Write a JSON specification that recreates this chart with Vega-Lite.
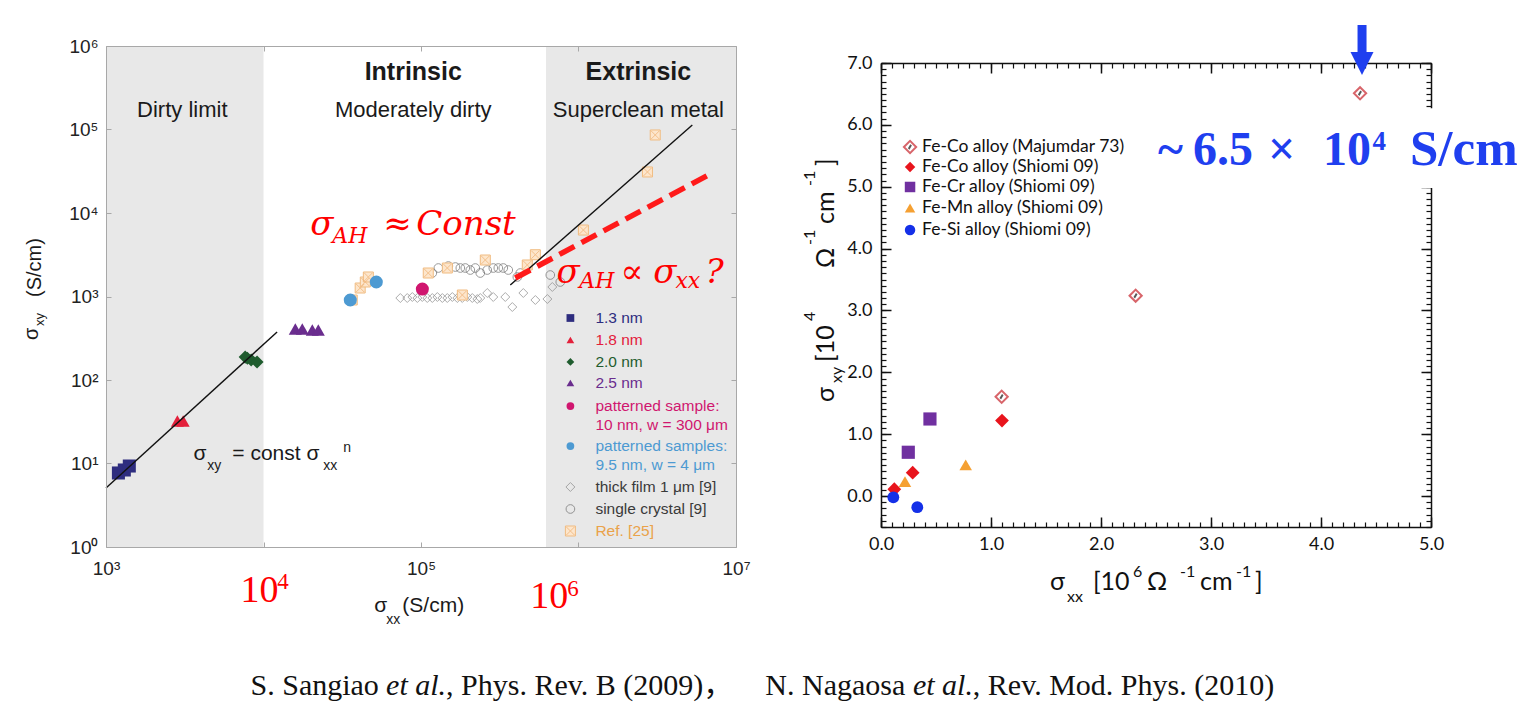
{
"$schema": "https://vega.github.io/schema/vega-lite/v6.json",
"background": "white",
"padding": {"left": 22, "top": 20, "right": 2, "bottom": 2},
"config": {"view": {"stroke": null}, "axis": {"grid": false}},
"datasets": {
"lband": [{"x1":1000,"x2":10000},{"x1":622000,"x2":10000000}],
"lcar": [{"x":1000,"y":1}],
"rcar": [{"x":0,"y":0}],
"lfit": [{"g":"a","x":1000,"y":5.09},{"g":"a","x":12200,"y":376},{"g":"b","x":369000,"y":1374},{"g":"b","x":5280000,"y":113000}],
"lred": [{"x":397000,"y":1667},{"x":6670000,"y":28500}],
"lthick": [{"x":73900,"y":959},{"x":81800,"y":959},{"x":88100,"y":986},{"x":94800,"y":959},{"x":101900,"y":986},{"x":109600,"y":959},{"x":118000,"y":959},{"x":127000,"y":986},{"x":136600,"y":959},{"x":146900,"y":959},{"x":158100,"y":986},{"x":170000,"y":959},{"x":182900,"y":959},{"x":196800,"y":986},{"x":211700,"y":959},{"x":227700,"y":933},{"x":237900,"y":959},{"x":263400,"y":1101},{"x":287700,"y":986},{"x":343000,"y":986},{"x":380000,"y":748},{"x":446400,"y":1101},{"x":532300,"y":908},{"x":634500,"y":933},{"x":682000,"y":1300},{"x":888300,"y":5.231}],
"lcryst": [{"x":118000,"y":1911},{"x":128900,"y":2194},{"x":149200,"y":2317},{"x":165300,"y":2254},{"x":177700,"y":2194},{"x":191100,"y":2194},{"x":205600,"y":2075},{"x":221200,"y":2194},{"x":237900,"y":1911},{"x":263400,"y":2075},{"x":287800,"y":2194},{"x":309600,"y":2194},{"x":333000,"y":2194},{"x":358200,"y":2075},{"x":409000,"y":1713},{"x":427000,"y":1911},{"x":662000,"y":1808},{"x":766000,"y":1492},{"x":888300,"y":2.852}],
"lref": [{"x":36600,"y":908},{"x":41100,"y":1264},{"x":44300,"y":1492},{"x":46300,"y":1713},{"x":111200,"y":1911},{"x":147000,"y":2194},{"x":183000,"y":1042},{"x":256000,"y":2735},{"x":473000,"y":2385},{"x":532000,"y":3164},{"x":1074000,"y":6252},{"x":2740000,"y":31000},{"x":3070000,"y":86000},{"x":888300,"y":1.554}],
"lfill": [{"s":"1.3 nm","x":1199,"y":7.7},{"s":"1.3 nm","x":1307,"y":8.36},{"s":"1.3 nm","x":1406,"y":9.33},{"s":"1.8 nm","x":2840,"y":32.3},{"s":"1.8 nm","x":3090,"y":32.3},{"s":"2.0 nm","x":7650,"y":188},{"s":"2.0 nm","x":7900,"y":182},{"s":"2.0 nm","x":8350,"y":174},{"s":"2.0 nm","x":9100,"y":164},{"s":"2.5 nm","x":15920,"y":408},{"s":"2.5 nm","x":17630,"y":408},{"s":"2.5 nm","x":20410,"y":397},{"s":"2.5 nm","x":22280,"y":397},{"s":"patterned sample","x":102000,"y":1229},{"s":"patterned samples","x":35570,"y":908},{"s":"patterned samples","x":52030,"y":1492}],
"llegf": [{"s":"1.3 nm","x":888300,"y":552.7},{"s":"1.8 nm","x":888300,"y":301.3},{"s":"2.0 nm","x":888300,"y":164.3},{"s":"2.5 nm","x":888300,"y":92.06},{"s":"patterned sample","x":888300,"y":48.81},{"s":"patterned samples","x":888300,"y":16.2}],
"llegt": [{"s":"1.3 nm","t":"1.3 nm","x":1280000,"y":552.7},{"s":"1.8 nm","t":"1.8 nm","x":1280000,"y":301.3},{"s":"2.0 nm","t":"2.0 nm","x":1280000,"y":164.3},{"s":"2.5 nm","t":"2.5 nm","x":1280000,"y":92.06},{"s":"patterned sample","t":"patterned sample:","x":1280000,"y":48.81},{"s":"patterned sample","t":"10 nm, w = 300 μm","x":1280000,"y":28.92},{"s":"patterned samples","t":"patterned samples:","x":1280000,"y":16.2},{"s":"patterned samples","t":"9.5 nm, w = 4 μm","x":1280000,"y":9.6},{"s":"Ref","t":"Ref. [25]","x":1280000,"y":1.554}],
"llegg": [{"t":"thick film 1 μm [9]","x":1280000,"y":5.231},{"t":"single crystal [9]","x":1280000,"y":2.852}],
"rfill": [{"s":"Fe-Co","x":1.1,"y":1.22},{"s":"Fe-Co","x":0.288,"y":0.378},{"s":"Fe-Co","x":0.121,"y":0.11},{"s":"Fe-Cr","x":0.445,"y":1.246},{"s":"Fe-Cr","x":0.248,"y":0.708},{"s":"Fe-Mn","x":0.77,"y":0.503},{"s":"Fe-Mn","x":0.218,"y":0.233},{"s":"Fe-Si","x":0.112,"y":-0.02},{"s":"Fe-Si","x":0.33,"y":-0.18}],
"rmaj": [{"x":1.097,"y":1.606},{"x":2.315,"y":3.239},{"x":4.355,"y":6.51},{"x":0.264,"y":5.642}],
"rlegf": [{"s":"Fe-Co","x":0.264,"y":5.319},{"s":"Fe-Cr","x":0.264,"y":4.996},{"s":"Fe-Mn","x":0.264,"y":4.656},{"s":"Fe-Si","x":0.264,"y":4.301}],
"rlegt": [{"t":"Fe-Co alloy (Majumdar 73)","x":0.373,"y":5.642},{"t":"Fe-Co alloy (Shiomi 09)","x":0.373,"y":5.319},{"t":"Fe-Cr alloy (Shiomi 09)","x":0.373,"y":4.996},{"t":"Fe-Mn alloy (Shiomi 09)","x":0.373,"y":4.656},{"t":"Fe-Si alloy (Shiomi 09)","x":0.373,"y":4.301}]
},
"resolve": {"scale": {"color": "independent", "shape": "independent", "size": "independent"}},
"spacing": 145,
"bounds": "flush",
"hconcat": [
{
"width": 630, "height": 501,
"resolve": {"axis": {"x": "independent", "y": "independent"}},
"layer": [
{"data": {"name": "lband"}, "mark": {"type": "rect", "color": "#e8e8e8"},
 "encoding": {
  "x": {"field": "x1", "type": "quantitative", "scale": {"type": "log", "domain": [1000, 10000000], "nice": false},
        "axis": {"orient": "bottom", "values": [1000,10000,100000,1000000,10000000], "labelExpr": "['10³','','10⁵','','10⁷'][round(log(datum.value)/LN10)-3]", "ticks": false, "domain": true, "domainColor": "#a8a8a8", "labelFont": "Liberation Sans", "labelFontSize": 19, "labelColor": "#222222", "labelPadding": 12, "labelOverlap": false, "labelFlush": false, "labelBound": false, "grid": false, "title": null, "zindex": 1}},
  "x2": {"field": "x2"},
  "y": {"datum": 1, "type": "quantitative", "scale": {"type": "log", "domain": [1, 1000000], "nice": false},
        "axis": {"orient": "left", "values": [1,10,100,1000,10000,100000,1000000], "labelExpr": "['10⁰','10¹','10²','10³','10⁴','10⁵','10⁶'][round(log(datum.value)/LN10)]", "ticks": false, "domain": true, "domainColor": "#a8a8a8", "labelFont": "Liberation Sans", "labelFontSize": 19, "labelColor": "#222222", "labelPadding": 8, "labelOverlap": false, "labelFlush": false, "labelBound": false, "grid": false, "title": null, "zindex": 1}},
  "y2": {"datum": 1000000}
 }},
{"data": {"name": "lcar"}, "mark": {"type": "point", "opacity": 0},
 "encoding": {
  "x": {"field": "x", "type": "quantitative", "scale": {"type": "log", "domain": [1000, 10000000], "nice": false},
        "axis": {"orient": "bottom", "values": [1000,10000,100000,1000000,10000000], "labels": false, "domain": false, "ticks": true, "tickSize": -5, "tickColor": "#a8a8a8", "grid": false, "title": null, "zindex": 1}},
  "y": {"field": "y", "type": "quantitative", "scale": {"type": "log", "domain": [1, 1000000], "nice": false},
        "axis": {"orient": "left", "values": [1,10,100,1000,10000,100000,1000000], "labels": false, "domain": false, "ticks": true, "tickSize": -5, "tickColor": "#a8a8a8", "grid": false, "title": null, "zindex": 1}}
 }},
{"data": {"name": "lcar"}, "mark": {"type": "point", "opacity": 0},
 "encoding": {
  "x": {"field": "x", "type": "quantitative", "scale": {"type": "log", "domain": [1000, 10000000], "nice": false},
        "axis": {"orient": "top", "values": [1000,10000,100000,1000000,10000000], "labels": false, "domain": true, "domainColor": "#a8a8a8", "ticks": true, "tickSize": -5, "tickColor": "#a8a8a8", "grid": false, "title": null, "zindex": 1}},
  "y": {"field": "y", "type": "quantitative", "scale": {"type": "log", "domain": [1, 1000000], "nice": false},
        "axis": {"orient": "right", "values": [1,10,100,1000,10000,100000,1000000], "labels": false, "domain": true, "domainColor": "#a8a8a8", "ticks": true, "tickSize": -5, "tickColor": "#a8a8a8", "grid": false, "title": null, "zindex": 1}}
 }},
{"data": {"name": "lthick"}, "mark": {"type": "point", "shape": "diamond", "filled": false, "color": "#8a8a8a", "strokeWidth": 1, "size": 80},
 "encoding": {"x": {"field": "x", "type": "quantitative", "scale": {"type": "log", "domain": [1000, 10000000], "nice": false}, "axis": null},
              "y": {"field": "y", "type": "quantitative", "scale": {"type": "log", "domain": [1, 1000000], "nice": false}, "axis": null}}},
{"data": {"name": "lcryst"}, "mark": {"type": "point", "shape": "circle", "filled": false, "color": "#6e6e6e", "strokeWidth": 1, "size": 75},
 "encoding": {"x": {"field": "x", "type": "quantitative", "scale": {"type": "log", "domain": [1000, 10000000], "nice": false}, "axis": null},
              "y": {"field": "y", "type": "quantitative", "scale": {"type": "log", "domain": [1, 1000000], "nice": false}, "axis": null}}},
{"data": {"name": "lref"}, "mark": {"type": "point", "shape": "square", "filled": true, "fill": "#fde6cc", "stroke": "#f0bb80", "strokeWidth": 1, "size": 100, "opacity": 1},
 "encoding": {"x": {"field": "x", "type": "quantitative", "scale": {"type": "log", "domain": [1000, 10000000], "nice": false}, "axis": null},
              "y": {"field": "y", "type": "quantitative", "scale": {"type": "log", "domain": [1, 1000000], "nice": false}, "axis": null}}},
{"data": {"name": "lref"}, "mark": {"type": "point", "shape": "M-0.8,-0.8L0.8,0.8M-0.8,0.8L0.8,-0.8", "filled": false, "color": "#f0b070", "strokeWidth": 1, "size": 100},
 "encoding": {"x": {"field": "x", "type": "quantitative", "scale": {"type": "log", "domain": [1000, 10000000], "nice": false}, "axis": null},
              "y": {"field": "y", "type": "quantitative", "scale": {"type": "log", "domain": [1, 1000000], "nice": false}, "axis": null}}},
{"data": {"name": "lfill"}, "mark": {"type": "point", "filled": true, "opacity": 1},
 "encoding": {"x": {"field": "x", "type": "quantitative", "scale": {"type": "log", "domain": [1000, 10000000], "nice": false}, "axis": null},
              "y": {"field": "y", "type": "quantitative", "scale": {"type": "log", "domain": [1, 1000000], "nice": false}, "axis": null},
              "shape": {"field": "s", "type": "nominal", "scale": {"domain": ["1.3 nm","1.8 nm","2.0 nm","2.5 nm","patterned sample","patterned samples"], "range": ["square","triangle-up","diamond","triangle-up","circle","circle"]}, "legend": null},
              "color": {"field": "s", "type": "nominal", "scale": {"domain": ["1.3 nm","1.8 nm","2.0 nm","2.5 nm","patterned sample","patterned samples","Ref"], "range": ["#2e2d7f","#e3203b","#1f5c2e","#6a2d8e","#d0166f","#4d9ad2","#eaa24a"]}, "legend": null},
              "size": {"field": "s", "type": "ordinal", "scale": {"domain": ["1.3 nm","1.8 nm","2.0 nm","2.5 nm","patterned sample","patterned samples"], "range": [170,170,120,64,80,70]}, "legend": null}}},
{"data": {"name": "lfit"}, "mark": {"type": "line", "color": "#111111", "strokeWidth": 1.4},
 "encoding": {"x": {"field": "x", "type": "quantitative", "scale": {"type": "log", "domain": [1000, 10000000], "nice": false}, "axis": null},
              "y": {"field": "y", "type": "quantitative", "scale": {"type": "log", "domain": [1, 1000000], "nice": false}, "axis": null},
              "detail": {"field": "g"}}},
{"data": {"name": "lred"}, "mark": {"type": "line", "color": "#ff1a1a", "strokeWidth": 5.5, "strokeDash": [17, 8], "strokeCap": "butt"},
 "encoding": {"x": {"field": "x", "type": "quantitative", "scale": {"type": "log", "domain": [1000, 10000000], "nice": false}, "axis": null},
              "y": {"field": "y", "type": "quantitative", "scale": {"type": "log", "domain": [1, 1000000], "nice": false}, "axis": null}}},
{"data": {"name": "llegf"}, "mark": {"type": "point", "filled": true, "opacity": 1, "size": 60},
 "encoding": {"x": {"field": "x", "type": "quantitative", "scale": {"type": "log", "domain": [1000, 10000000], "nice": false}, "axis": null},
              "y": {"field": "y", "type": "quantitative", "scale": {"type": "log", "domain": [1, 1000000], "nice": false}, "axis": null},
              "shape": {"field": "s", "type": "nominal", "scale": {"domain": ["1.3 nm","1.8 nm","2.0 nm","2.5 nm","patterned sample","patterned samples"], "range": ["square","triangle-up","diamond","triangle-up","circle","circle"]}, "legend": null},
              "color": {"field": "s", "type": "nominal", "scale": {"domain": ["1.3 nm","1.8 nm","2.0 nm","2.5 nm","patterned sample","patterned samples","Ref"], "range": ["#2e2d7f","#e3203b","#1f5c2e","#6a2d8e","#d0166f","#4d9ad2","#eaa24a"]}, "legend": null}}},
{"data": {"name": "llegt"}, "mark": {"type": "text", "font": "Liberation Sans", "fontSize": 15.5, "align": "left", "baseline": "middle"},
 "encoding": {"x": {"field": "x", "type": "quantitative", "scale": {"type": "log", "domain": [1000, 10000000], "nice": false}, "axis": null},
              "y": {"field": "y", "type": "quantitative", "scale": {"type": "log", "domain": [1, 1000000], "nice": false}, "axis": null},
              "text": {"field": "t"},
              "color": {"field": "s", "type": "nominal", "scale": {"domain": ["1.3 nm","1.8 nm","2.0 nm","2.5 nm","patterned sample","patterned samples","Ref"], "range": ["#2e2d7f","#e3203b","#1f5c2e","#6a2d8e","#d0166f","#4d9ad2","#eaa24a"]}, "legend": null}}},
{"data": {"name": "llegg"}, "mark": {"type": "text", "font": "Liberation Sans", "fontSize": 15.5, "align": "left", "baseline": "middle", "color": "#3a3a3a"},
 "encoding": {"x": {"field": "x", "type": "quantitative", "scale": {"type": "log", "domain": [1000, 10000000], "nice": false}, "axis": null},
              "y": {"field": "y", "type": "quantitative", "scale": {"type": "log", "domain": [1, 1000000], "nice": false}, "axis": null},
              "text": {"field": "t"}}},
{"data": {"values": [{"t":"Intrinsic","x":89300,"y":391700},{"t":"Extrinsic","x":2399000,"y":391700}]},
 "mark": {"type": "text", "font": "Liberation Sans", "fontSize": 25, "fontWeight": "bold", "color": "#1a1a1a", "align": "center", "baseline": "alphabetic"},
 "encoding": {"x": {"field": "x", "type": "quantitative", "scale": {"type": "log", "domain": [1000, 10000000], "nice": false}, "axis": null},
              "y": {"field": "y", "type": "quantitative", "scale": {"type": "log", "domain": [1, 1000000], "nice": false}, "axis": null},
              "text": {"field": "t"}}},
{"data": {"values": [{"t":"Dirty limit","x":3051,"y":141200},{"t":"Moderately dirty","x":89300,"y":141200},{"t":"Superclean metal","x":2399000,"y":141200}]},
 "mark": {"type": "text", "font": "Liberation Sans", "fontSize": 22, "color": "#1a1a1a", "align": "center", "baseline": "alphabetic"},
 "encoding": {"x": {"field": "x", "type": "quantitative", "scale": {"type": "log", "domain": [1000, 10000000], "nice": false}, "axis": null},
              "y": {"field": "y", "type": "quantitative", "scale": {"type": "log", "domain": [1, 1000000], "nice": false}, "axis": null},
              "text": {"field": "t"}}},
{"data": {"values": [{"t":"σ","x":19830,"y":5452},{"t":"≈","x":57620,"y":5452},{"t":"Const","x":93350,"y":5452},{"t":"σ","x":723900,"y":1451},{"t":"∝","x":1845000,"y":1451},{"t":"σ","x":2985000,"y":1451},{"t":"?","x":6393000,"y":1451}]},
 "mark": {"type": "text", "font": "DejaVu Serif", "fontStyle": "italic", "fontSize": 34, "color": "#ff0000", "align": "left", "baseline": "alphabetic"},
 "encoding": {"x": {"field": "x", "type": "quantitative", "scale": {"type": "log", "domain": [1000, 10000000], "nice": false}, "axis": null},
              "y": {"field": "y", "type": "quantitative", "scale": {"type": "log", "domain": [1, 1000000], "nice": false}, "axis": null},
              "text": {"field": "t"}}},
{"data": {"values": [{"t":"AH","x":27340,"y":4373},{"t":"AH","x":1011800,"y":1264},{"t":"xx","x":4124000,"y":1264}]},
 "mark": {"type": "text", "font": "DejaVu Serif", "fontStyle": "italic", "fontSize": 22, "color": "#ff0000", "align": "left", "baseline": "alphabetic"},
 "encoding": {"x": {"field": "x", "type": "quantitative", "scale": {"type": "log", "domain": [1000, 10000000], "nice": false}, "axis": null},
              "y": {"field": "y", "type": "quantitative", "scale": {"type": "log", "domain": [1, 1000000], "nice": false}, "axis": null},
              "text": {"field": "t"}}},
{"data": {"values": [{"t":"10","x":7134,"y":0.2195},{"t":"10","x":494300,"y":0.186}]},
 "mark": {"type": "text", "font": "Liberation Serif", "fontSize": 38, "color": "#ff0000", "align": "left", "baseline": "alphabetic"},
 "encoding": {"x": {"field": "x", "type": "quantitative", "scale": {"type": "log", "domain": [1000, 10000000], "nice": false}, "axis": null},
              "y": {"field": "y", "type": "quantitative", "scale": {"type": "log", "domain": [1, 1000000], "nice": false}, "axis": null},
              "text": {"field": "t"}}},
{"data": {"values": [{"t":"4","x":12240,"y":0.3144},{"t":"6","x":849000,"y":0.2589}]},
 "mark": {"type": "text", "font": "Liberation Serif", "fontSize": 23, "color": "#ff0000", "align": "left", "baseline": "alphabetic"},
 "encoding": {"x": {"field": "x", "type": "quantitative", "scale": {"type": "log", "domain": [1000, 10000000], "nice": false}, "axis": null},
              "y": {"field": "y", "type": "quantitative", "scale": {"type": "log", "domain": [1, 1000000], "nice": false}, "axis": null},
              "text": {"field": "t"}}},
{"data": {"values": [{"t":"σ","x":3594,"y":11.01},{"t":"= const σ","x":6338,"y":11.01},{"t":"σ","x":50520,"y":0.1666},{"t":"(S/cm)","x":76100,"y":0.1666}]},
 "mark": {"type": "text", "font": "Liberation Sans", "fontSize": 21, "color": "#1a1a1a", "align": "left", "baseline": "alphabetic"},
 "encoding": {"x": {"field": "x", "type": "quantitative", "scale": {"type": "log", "domain": [1000, 10000000], "nice": false}, "axis": null},
              "y": {"field": "y", "type": "quantitative", "scale": {"type": "log", "domain": [1, 1000000], "nice": false}, "axis": null},
              "text": {"field": "t"}}},
{"data": {"values": [{"t":"xy","x":4397,"y":8.36},{"t":"xx","x":23970,"y":8.36},{"t":"n","x":32110,"y":13.73},{"t":"xx","x":60210,"y":0.1197}]},
 "mark": {"type": "text", "font": "Liberation Sans", "fontSize": 14, "color": "#1a1a1a", "align": "left", "baseline": "alphabetic"},
 "encoding": {"x": {"field": "x", "type": "quantitative", "scale": {"type": "log", "domain": [1000, 10000000], "nice": false}, "axis": null},
              "y": {"field": "y", "type": "quantitative", "scale": {"type": "log", "domain": [1, 1000000], "nice": false}, "axis": null},
              "text": {"field": "t"}}},
{"data": {"values": [{"t":"σ","x":371.7,"y":301.3},{"t":"(S/cm)","x":388.3,"y":986}]},
 "mark": {"type": "text", "font": "Liberation Sans", "fontSize": 20, "color": "#1a1a1a", "align": "left", "baseline": "alphabetic", "angle": 270},
 "encoding": {"x": {"field": "x", "type": "quantitative", "scale": {"type": "log", "domain": [1000, 10000000], "nice": false}, "axis": null},
              "y": {"field": "y", "type": "quantitative", "scale": {"type": "log", "domain": [1, 1000000], "nice": false}, "axis": null},
              "text": {"field": "t"}}},
{"data": {"values": [{"t":"xy","x":405.8,"y":443.4}]},
 "mark": {"type": "text", "font": "Liberation Sans", "fontSize": 13, "color": "#1a1a1a", "align": "left", "baseline": "alphabetic", "angle": 270},
 "encoding": {"x": {"field": "x", "type": "quantitative", "scale": {"type": "log", "domain": [1000, 10000000], "nice": false}, "axis": null},
              "y": {"field": "y", "type": "quantitative", "scale": {"type": "log", "domain": [1, 1000000], "nice": false}, "axis": null},
              "text": {"field": "t"}}},
{"data": {"values": [{"t":"S. Sangiao","x":8270,"y":0.01689},{"t":", Phys. Rev. B (2009)，","x":144300,"y":0.01689},{"t":"N. Nagaosa","x":15350000,"y":0.01689},{"t":", Rev. Mod. Phys. (2010)","x":318800000,"y":0.01689}]},
 "mark": {"type": "text", "font": "Liberation Serif, Noto Sans CJK SC", "fontSize": 30, "color": "#111111", "align": "left", "baseline": "alphabetic"},
 "encoding": {"x": {"field": "x", "type": "quantitative", "scale": {"type": "log", "domain": [1000, 10000000], "nice": false}, "axis": null},
              "y": {"field": "y", "type": "quantitative", "scale": {"type": "log", "domain": [1, 1000000], "nice": false}, "axis": null},
              "text": {"field": "t"}}},
{"data": {"values": [{"t":"et al.","x":60030,"y":0.01689},{"t":"et al.","x":132800000,"y":0.01689}]},
 "mark": {"type": "text", "font": "Liberation Serif", "fontStyle": "italic", "fontSize": 30, "color": "#111111", "align": "left", "baseline": "alphabetic"},
 "encoding": {"x": {"field": "x", "type": "quantitative", "scale": {"type": "log", "domain": [1000, 10000000], "nice": false}, "axis": null},
              "y": {"field": "y", "type": "quantitative", "scale": {"type": "log", "domain": [1, 1000000], "nice": false}, "axis": null},
              "text": {"field": "t"}}}
]
},
{
"spacing": 0,
"bounds": "flush",
"vconcat": [
{"width": 550, "height": 17, "data": {"values": [{"a": 1}]}, "mark": {"type": "point", "opacity": 0}, "encoding": {}},
{
"width": 550, "height": 464,
"resolve": {"axis": {"x": "independent", "y": "independent"}},
"layer": [
{"data": {"name": "rcar"}, "mark": {"type": "point", "opacity": 0},
 "encoding": {
  "x": {"field": "x", "type": "quantitative", "scale": {"domain": [0, 5], "nice": false, "zero": false},
        "axis": {"orient": "bottom", "values": [0,1,2,3,4,5], "format": ".1f", "ticks": false, "domain": true, "domainColor": "#111111", "domainWidth": 1.5, "labelFont": "Lato", "labelFontSize": 18, "labelColor": "#111111", "labelPadding": 8, "labelOverlap": false, "labelFlush": false, "labelBound": false, "grid": false, "title": null}},
  "y": {"field": "y", "type": "quantitative", "scale": {"domain": [-0.5, 7], "nice": false, "zero": false},
        "axis": {"orient": "left", "values": [0,1,2,3,4,5,6,7], "format": ".1f", "ticks": false, "domain": true, "domainColor": "#111111", "domainWidth": 1.5, "labelFont": "Lato", "labelFontSize": 18, "labelColor": "#111111", "labelPadding": 9, "labelOverlap": false, "labelFlush": false, "labelBound": false, "grid": false, "title": null}}
 }},
{"data": {"name": "rcar"}, "mark": {"type": "point", "opacity": 0},
 "encoding": {
  "x": {"field": "x", "type": "quantitative", "scale": {"domain": [0, 5], "nice": false, "zero": false},
        "axis": {"orient": "bottom", "values": [0,0.1,0.2,0.3,0.4,0.5,0.6,0.7,0.8,0.9,1,1.1,1.2,1.3,1.4,1.5,1.6,1.7,1.8,1.9,2,2.1,2.2,2.3,2.4,2.5,2.6,2.7,2.8,2.9,3,3.1,3.2,3.3,3.4,3.5,3.6,3.7,3.8,3.9,4,4.1,4.2,4.3,4.4,4.5,4.6,4.7,4.8,4.9,5], "labels": false, "domain": false, "ticks": true, "tickSize": -5, "tickColor": "#111111", "tickWidth": 1.2, "grid": false, "title": null}},
  "y": {"field": "y", "type": "quantitative", "scale": {"domain": [-0.5, 7], "nice": false, "zero": false},
        "axis": {"orient": "left", "values": [-0.5,-0.4,-0.3,-0.2,-0.1,0,0.1,0.2,0.3,0.4,0.5,0.6,0.7,0.8,0.9,1,1.1,1.2,1.3,1.4,1.5,1.6,1.7,1.8,1.9,2,2.1,2.2,2.3,2.4,2.5,2.6,2.7,2.8,2.9,3,3.1,3.2,3.3,3.4,3.5,3.6,3.7,3.8,3.9,4,4.1,4.2,4.3,4.4,4.5,4.6,4.7,4.8,4.9,5,5.1,5.2,5.3,5.4,5.5,5.6,5.7,5.8,5.9,6,6.1,6.2,6.3,6.4,6.5,6.6,6.7,6.8,6.9,7], "labels": false, "domain": false, "ticks": true, "tickSize": -5, "tickColor": "#111111", "tickWidth": 1.2, "grid": false, "title": null}}
 }},
{"data": {"name": "rcar"}, "mark": {"type": "point", "opacity": 0},
 "encoding": {
  "x": {"field": "x", "type": "quantitative", "scale": {"domain": [0, 5], "nice": false, "zero": false},
        "axis": {"orient": "bottom", "values": [0,1,2,3,4,5], "labels": false, "domain": false, "ticks": true, "tickSize": -10, "tickColor": "#111111", "tickWidth": 1.5, "grid": false, "title": null}},
  "y": {"field": "y", "type": "quantitative", "scale": {"domain": [-0.5, 7], "nice": false, "zero": false},
        "axis": {"orient": "left", "values": [0,1,2,3,4,5,6,7], "labels": false, "domain": false, "ticks": true, "tickSize": -10, "tickColor": "#111111", "tickWidth": 1.5, "grid": false, "title": null}}
 }},
{"data": {"name": "rcar"}, "mark": {"type": "point", "opacity": 0},
 "encoding": {
  "x": {"field": "x", "type": "quantitative", "scale": {"domain": [0, 5], "nice": false, "zero": false},
        "axis": {"orient": "top", "values": [0,0.1,0.2,0.3,0.4,0.5,0.6,0.7,0.8,0.9,1,1.1,1.2,1.3,1.4,1.5,1.6,1.7,1.8,1.9,2,2.1,2.2,2.3,2.4,2.5,2.6,2.7,2.8,2.9,3,3.1,3.2,3.3,3.4,3.5,3.6,3.7,3.8,3.9,4,4.1,4.2,4.3,4.4,4.5,4.6,4.7,4.8,4.9,5], "labels": false, "domain": true, "domainColor": "#111111", "domainWidth": 1.5, "ticks": true, "tickSize": -5, "tickColor": "#111111", "tickWidth": 1.2, "grid": false, "title": null}},
  "y": {"field": "y", "type": "quantitative", "scale": {"domain": [-0.5, 7], "nice": false, "zero": false},
        "axis": {"orient": "right", "values": [-0.5,-0.4,-0.3,-0.2,-0.1,0,0.1,0.2,0.3,0.4,0.5,0.6,0.7,0.8,0.9,1,1.1,1.2,1.3,1.4,1.5,1.6,1.7,1.8,1.9,2,2.1,2.2,2.3,2.4,2.5,2.6,2.7,2.8,2.9,3,3.1,3.2,3.3,3.4,3.5,3.6,3.7,3.8,3.9,4,4.1,4.2,4.3,4.4,4.5,4.6,4.7,4.8,4.9,5,5.1,5.2,5.3,5.4,5.5,5.6,5.7,5.8,5.9,6,6.1,6.2,6.3,6.4,6.5,6.6,6.7,6.8,6.9,7], "labels": false, "domain": true, "domainColor": "#111111", "domainWidth": 1.5, "ticks": true, "tickSize": -5, "tickColor": "#111111", "tickWidth": 1.2, "grid": false, "title": null}}
 }},
{"data": {"name": "rcar"}, "mark": {"type": "point", "opacity": 0},
 "encoding": {
  "x": {"field": "x", "type": "quantitative", "scale": {"domain": [0, 5], "nice": false, "zero": false},
        "axis": {"orient": "top", "values": [0,1,2,3,4,5], "labels": false, "domain": false, "ticks": true, "tickSize": -10, "tickColor": "#111111", "tickWidth": 1.5, "grid": false, "title": null}},
  "y": {"field": "y", "type": "quantitative", "scale": {"domain": [-0.5, 7], "nice": false, "zero": false},
        "axis": {"orient": "right", "values": [0,1,2,3,4,5,6,7], "labels": false, "domain": false, "ticks": true, "tickSize": -10, "tickColor": "#111111", "tickWidth": 1.5, "grid": false, "title": null}}
 }},
{"data": {"name": "rfill"}, "mark": {"type": "point", "filled": true, "opacity": 1},
 "encoding": {"x": {"field": "x", "type": "quantitative", "scale": {"domain": [0, 5], "nice": false, "zero": false}, "axis": null},
              "y": {"field": "y", "type": "quantitative", "scale": {"domain": [-0.5, 7], "nice": false, "zero": false}, "axis": null},
              "shape": {"field": "s", "type": "nominal", "scale": {"domain": ["Fe-Co","Fe-Cr","Fe-Mn","Fe-Si"], "range": ["diamond","square","triangle-up","circle"]}, "legend": null},
              "color": {"field": "s", "type": "nominal", "scale": {"domain": ["Fe-Co","Fe-Cr","Fe-Mn","Fe-Si"], "range": ["#e8141c","#7030a0","#f5a032","#1430e8"]}, "legend": null},
              "size": {"field": "s", "type": "ordinal", "scale": {"domain": ["Fe-Co","Fe-Cr","Fe-Mn","Fe-Si"], "range": [190,140,180,120]}, "legend": null}}},
{"data": {"name": "rlegf"}, "mark": {"type": "point", "filled": true, "opacity": 1, "size": 110},
 "encoding": {"x": {"field": "x", "type": "quantitative", "scale": {"domain": [0, 5], "nice": false, "zero": false}, "axis": null},
              "y": {"field": "y", "type": "quantitative", "scale": {"domain": [-0.5, 7], "nice": false, "zero": false}, "axis": null},
              "shape": {"field": "s", "type": "nominal", "scale": {"domain": ["Fe-Co","Fe-Cr","Fe-Mn","Fe-Si"], "range": ["diamond","square","triangle-up","circle"]}, "legend": null},
              "color": {"field": "s", "type": "nominal", "scale": {"domain": ["Fe-Co","Fe-Cr","Fe-Mn","Fe-Si"], "range": ["#e8141c","#7030a0","#f5a032","#1430e8"]}, "legend": null}}},
{"data": {"name": "rmaj"}, "mark": {"type": "point", "shape": "diamond", "filled": true, "fill": "#ffffff", "stroke": "#c8242c", "strokeWidth": 2, "size": 150},
 "encoding": {"x": {"field": "x", "type": "quantitative", "scale": {"domain": [0, 5], "nice": false, "zero": false}, "axis": null},
              "y": {"field": "y", "type": "quantitative", "scale": {"domain": [-0.5, 7], "nice": false, "zero": false}, "axis": null}}},
{"data": {"name": "rmaj"}, "mark": {"type": "point", "shape": "M-0.35,0.2L0.05,-0.45L0.3,-0.25L-0.1,0.45Z", "filled": true, "color": "#111111", "size": 150},
 "encoding": {"x": {"field": "x", "type": "quantitative", "scale": {"domain": [0, 5], "nice": false, "zero": false}, "axis": null},
              "y": {"field": "y", "type": "quantitative", "scale": {"domain": [-0.5, 7], "nice": false, "zero": false}, "axis": null}}},
{"data": {"name": "rlegt"}, "mark": {"type": "text", "font": "Lato", "fontSize": 17.5, "color": "#111111", "align": "left", "baseline": "middle"},
 "encoding": {"x": {"field": "x", "type": "quantitative", "scale": {"domain": [0, 5], "nice": false, "zero": false}, "axis": null},
              "y": {"field": "y", "type": "quantitative", "scale": {"domain": [-0.5, 7], "nice": false, "zero": false}, "axis": null},
              "text": {"field": "t"}}},
{"data": {"values": [{"x1": 2.33, "x2": 5.85, "y1": 4.98, "y2": 6.27}]}, "mark": {"type": "rect", "color": "#ffffff"},
 "encoding": {"x": {"field": "x1", "type": "quantitative", "scale": {"domain": [0, 5], "nice": false, "zero": false}, "axis": null},
              "x2": {"field": "x2"},
              "y": {"field": "y1", "type": "quantitative", "scale": {"domain": [-0.5, 7], "nice": false, "zero": false}, "axis": null},
              "y2": {"field": "y2"}}},
{"data": {"values": [{"t":"~","x":2.518,"y":5.351},{"t":"6.5","x":2.836,"y":5.351},{"t":"×","x":3.518,"y":5.351},{"t":"10","x":4.018,"y":5.351}]},
 "mark": {"type": "text", "font": "Liberation Serif", "fontWeight": "bold", "fontSize": 48, "color": "#1f3fef", "align": "left", "baseline": "alphabetic"},
 "encoding": {"x": {"field": "x", "type": "quantitative", "scale": {"domain": [0, 5], "nice": false, "zero": false}, "axis": null},
              "y": {"field": "y", "type": "quantitative", "scale": {"domain": [-0.5, 7], "nice": false, "zero": false}, "axis": null},
              "text": {"field": "t"}}},
{"data": {"values": [{"t":"S/cm","x":4.809,"y":5.351}]},
 "mark": {"type": "text", "font": "Liberation Serif", "fontWeight": "bold", "fontSize": 51, "color": "#1f3fef", "align": "left", "baseline": "alphabetic"},
 "encoding": {"x": {"field": "x", "type": "quantitative", "scale": {"domain": [0, 5], "nice": false, "zero": false}, "axis": null},
              "y": {"field": "y", "type": "quantitative", "scale": {"domain": [-0.5, 7], "nice": false, "zero": false}, "axis": null},
              "text": {"field": "t"}}},
{"data": {"values": [{"t":"4","x":4.468,"y":5.594}]},
 "mark": {"type": "text", "font": "Liberation Serif", "fontWeight": "bold", "fontSize": 27, "color": "#1f3fef", "align": "left", "baseline": "alphabetic"},
 "encoding": {"x": {"field": "x", "type": "quantitative", "scale": {"domain": [0, 5], "nice": false, "zero": false}, "axis": null},
              "y": {"field": "y", "type": "quantitative", "scale": {"domain": [-0.5, 7], "nice": false, "zero": false}, "axis": null},
              "text": {"field": "t"}}},
{"data": {"values": [{"x": 4.373, "y1": 7.614, "y2": 7.15}]}, "mark": {"type": "rule", "color": "#1f3fef", "strokeWidth": 9, "strokeCap": "butt"},
 "encoding": {"x": {"field": "x", "type": "quantitative", "scale": {"domain": [0, 5], "nice": false, "zero": false}, "axis": null},
              "y": {"field": "y1", "type": "quantitative", "scale": {"domain": [-0.5, 7], "nice": false, "zero": false}, "axis": null},
              "y2": {"field": "y2"}}},
{"data": {"values": [{"x": 4.373, "y": 6.992}]}, "mark": {"type": "point", "shape": "M-1,-1L1,-1L0,1Z", "filled": true, "color": "#1f3fef", "opacity": 1, "size": 529},
 "encoding": {"x": {"field": "x", "type": "quantitative", "scale": {"domain": [0, 5], "nice": false, "zero": false}, "axis": null},
              "y": {"field": "y", "type": "quantitative", "scale": {"domain": [-0.5, 7], "nice": false, "zero": false}, "axis": null}}},
{"data": {"values": [{"t":"σ","x":1.536,"y":-1.518},{"t":"[10","x":1.927,"y":-1.518},{"t":"Ω","x":2.418,"y":-1.518},{"t":"cm","x":2.9,"y":-1.518},{"t":"]","x":3.4,"y":-1.518}]},
 "mark": {"type": "text", "font": "Lato", "fontSize": 25, "color": "#111111", "align": "left", "baseline": "alphabetic"},
 "encoding": {"x": {"field": "x", "type": "quantitative", "scale": {"domain": [0, 5], "nice": false, "zero": false}, "axis": null},
              "y": {"field": "y", "type": "quantitative", "scale": {"domain": [-0.5, 7], "nice": false, "zero": false}, "axis": null},
              "text": {"field": "t"}}},
{"data": {"values": [{"t":"xx","x":1.691,"y":-1.712},{"t":"6","x":2.291,"y":-1.307},{"t":"-1","x":2.718,"y":-1.307},{"t":"-1","x":3.227,"y":-1.307}]},
 "mark": {"type": "text", "font": "Lato", "fontSize": 16, "color": "#111111", "align": "left", "baseline": "alphabetic"},
 "encoding": {"x": {"field": "x", "type": "quantitative", "scale": {"domain": [0, 5], "nice": false, "zero": false}, "axis": null},
              "y": {"field": "y", "type": "quantitative", "scale": {"domain": [-0.5, 7], "nice": false, "zero": false}, "axis": null},
              "text": {"field": "t"}}},
{"data": {"values": [{"t":"σ","x":-0.427,"y":1.521},{"t":"[10","x":-0.427,"y":2.167},{"t":"Ω","x":-0.427,"y":3.687},{"t":"cm","x":-0.427,"y":4.398},{"t":"]","x":-0.427,"y":5.335}]},
 "mark": {"type": "text", "font": "Lato", "fontSize": 25, "color": "#111111", "align": "left", "baseline": "alphabetic", "angle": 270},
 "encoding": {"x": {"field": "x", "type": "quantitative", "scale": {"domain": [0, 5], "nice": false, "zero": false}, "axis": null},
              "y": {"field": "y", "type": "quantitative", "scale": {"domain": [-0.5, 7], "nice": false, "zero": false}, "axis": null},
              "text": {"field": "t"}}},
{"data": {"values": [{"t":"xy","x":-0.355,"y":1.828},{"t":"4","x":-0.6,"y":2.83},{"t":"-1","x":-0.6,"y":4.058},{"t":"-1","x":-0.6,"y":5.012}]},
 "mark": {"type": "text", "font": "Lato", "fontSize": 16, "color": "#111111", "align": "left", "baseline": "alphabetic", "angle": 270},
 "encoding": {"x": {"field": "x", "type": "quantitative", "scale": {"domain": [0, 5], "nice": false, "zero": false}, "axis": null},
              "y": {"field": "y", "type": "quantitative", "scale": {"domain": [-0.5, 7], "nice": false, "zero": false}, "axis": null},
              "text": {"field": "t"}}}
]
}
]
}
]
}
